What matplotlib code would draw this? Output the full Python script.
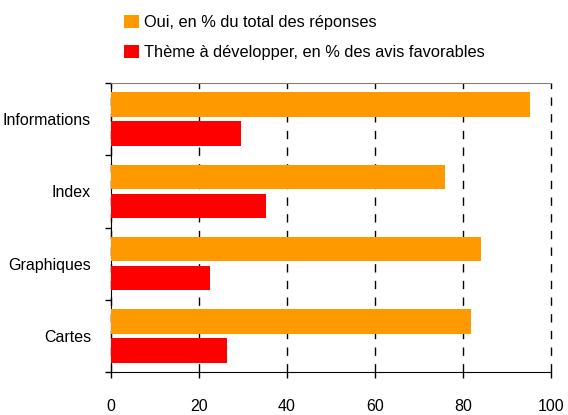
import matplotlib.pyplot as plt
import numpy as np

# données
categories = ['Informations', 'Index', 'Graphiques', 'Cartes']
oui_pct = [95.3, 76.0, 84.0, 81.9]
theme_pct = [29.5, 35.2, 22.5, 26.3]
labels = ['Oui, en % du total des réponses',
          'Thème à développer, en % des avis favorables']

plt.rcParams['font.family'] = ['Liberation Sans', 'DejaVu Sans']

fig = plt.figure(figsize=(5.68, 4.15), dpi=100)
ax = fig.add_axes([111 / 568, 1 - 372 / 415, 440 / 568, 289 / 415])

y = np.arange(len(categories))
ax.barh(y - 0.2, oui_pct, height=0.34, color='#FF9900', label=labels[0], zorder=3)
ax.barh(y + 0.2, theme_pct, height=0.34, color='#FF0000', label=labels[1], zorder=3)

ax.set_ylim(len(categories) - 0.5, -0.5)
ax.set_xlim(0, 100)
ax.set_xticks([0, 20, 40, 60, 80, 100])
ax.set_yticks(y)
ax.set_yticklabels(categories)
ax.set_yticks(np.arange(len(categories) + 1) - 0.5, minor=True)
ax.tick_params(axis='y', which='major', length=0, pad=14.4, labelsize=11.5)
ax.tick_params(axis='y', which='minor', length=4.5, width=1, direction='out')
ax.tick_params(axis='x', length=4.5, width=1, direction='out', pad=15, labelsize=11.5)
for lbl in ax.get_yticklabels():
    lbl.set_va('center_baseline')

ax.xaxis.grid(True, color='black', linestyle=(0, (6, 6)), linewidth=1, zorder=0)
for gl in ax.get_xgridlines():
    gl.set_clip_on(False)
ax.spines['top'].set_color('#808080')
ax.spines['right'].set_visible(False)

# légende
leg = fig.legend(loc='upper left', bbox_to_anchor=(124 / 568, 1 - 15 / 415),
                 frameon=False, handlelength=0.92, handleheight=0.85,
                 handletextpad=0.3, labelspacing=0.89, fontsize=11.8,
                 borderpad=0, borderaxespad=0)

fig.savefig('out.png', dpi=100)
